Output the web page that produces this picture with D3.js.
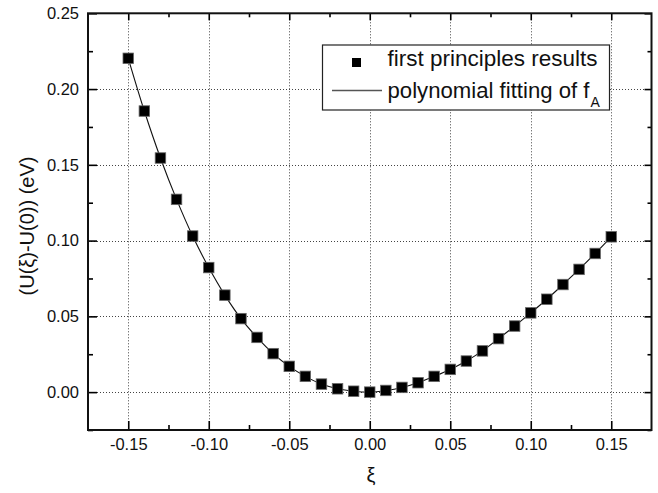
<!DOCTYPE html>
<html>
<head>
<meta charset="utf-8">
<script src="https://cdn.jsdelivr.net/npm/d3@7"></script>
<style>
  html, body { margin: 0; padding: 0; background: #fff; }
  svg text { font-family: Arial, "Liberation Sans", Helvetica, sans-serif; }
</style>
</head>
<body>
<svg id="chart" width="658" height="493"></svg>
<script>
const xiValues = [-0.15, -0.14, -0.13, -0.12, -0.11, -0.10, -0.09, -0.08, -0.07, -0.06,
                  -0.05, -0.04, -0.03, -0.02, -0.01, 0.00, 0.01, 0.02, 0.03, 0.04,
                  0.05, 0.06, 0.07, 0.08, 0.09, 0.10, 0.11, 0.12, 0.13, 0.14, 0.15];
const energyValues = [0.2203, 0.1855, 0.1545, 0.1272, 0.1030, 0.0822, 0.0640, 0.0485, 0.0361, 0.0254,
                      0.0170, 0.0104, 0.0053, 0.0022, 0.0006, 0.0000, 0.0011, 0.0031, 0.0062, 0.0104,
                      0.0150, 0.0205, 0.0272, 0.0353, 0.0436, 0.0523, 0.0613, 0.0710, 0.0810, 0.0915, 0.1025];
const xTicks = [-0.15, -0.10, -0.05, 0.00, 0.05, 0.10, 0.15];
const yTicks = [0.00, 0.05, 0.10, 0.15, 0.20, 0.25];
const xMinorTicks = [-0.125, -0.075, -0.025, 0.025, 0.075, 0.125];
const yMinorTicks = [-0.025, 0.025, 0.075, 0.125, 0.175, 0.225];
const legendLabels = ["first principles results", "polynomial fitting of f"];

const svg = d3.select("#chart");
const L = 88, R = 651.5, T = 13.3, B = 430;
const x = d3.scaleLinear().domain([-0.175, 0.175]).range([L, R]);
const y = d3.scaleLinear().domain([-0.025, 0.25]).range([B, T]);

// grid
const grid = svg.append("g").attr("stroke", "#444").attr("stroke-width", 1).attr("stroke-dasharray", "1,2");
grid.selectAll("line.gx").data(xTicks).join("line")
  .attr("x1", d => Math.round(x(d)) + 0.5).attr("x2", d => Math.round(x(d)) + 0.5)
  .attr("y1", T).attr("y2", B);
grid.selectAll("line.gy").data(yTicks).join("line")
  .attr("y1", d => Math.round(y(d)) + 0.5).attr("y2", d => Math.round(y(d)) + 0.5)
  .attr("x1", L).attr("x2", R);

// axes with inward ticks
const f2 = d3.format(".2f");
const fmt = d => f2(d).replace("\u2212", "-");
function styleAxis(g) {
  g.select(".domain").remove();
  g.selectAll(".tick line").attr("stroke", "#000").attr("stroke-width", 1.6);
  g.selectAll(".tick text").attr("fill", "#111").attr("font-size", 16.5)
   .attr("font-family", "Arial, 'Liberation Sans', sans-serif");
}
const axBottom = svg.append("g").attr("transform", `translate(0,${B})`)
  .call(d3.axisBottom(x).tickValues(xTicks).tickFormat(fmt).tickSizeInner(-9).tickSizeOuter(0).tickPadding(8));
styleAxis(axBottom);
const axBottomMinor = svg.append("g").attr("transform", `translate(0,${B})`)
  .call(d3.axisBottom(x).tickValues(xMinorTicks).tickFormat("").tickSizeInner(-5).tickSizeOuter(0));
styleAxis(axBottomMinor);
const axTop = svg.append("g").attr("transform", `translate(0,${T})`)
  .call(d3.axisTop(x).tickValues(xTicks).tickFormat("").tickSizeInner(-7).tickSizeOuter(0));
styleAxis(axTop);
const axTopMinor = svg.append("g").attr("transform", `translate(0,${T})`)
  .call(d3.axisTop(x).tickValues(xMinorTicks).tickFormat("").tickSizeInner(-4).tickSizeOuter(0));
styleAxis(axTopMinor);
const axLeft = svg.append("g").attr("transform", `translate(${L},0)`)
  .call(d3.axisLeft(y).tickValues(yTicks).tickFormat(fmt).tickSizeInner(-9).tickSizeOuter(0).tickPadding(9));
styleAxis(axLeft);
const axLeftMinor = svg.append("g").attr("transform", `translate(${L},0)`)
  .call(d3.axisLeft(y).tickValues(yMinorTicks).tickFormat("").tickSizeInner(-5).tickSizeOuter(0));
styleAxis(axLeftMinor);
const axRight = svg.append("g").attr("transform", `translate(${R},0)`)
  .call(d3.axisRight(y).tickValues(yTicks).tickFormat("").tickSizeInner(-7).tickSizeOuter(0));
styleAxis(axRight);
const axRightMinor = svg.append("g").attr("transform", `translate(${R},0)`)
  .call(d3.axisRight(y).tickValues(yMinorTicks).tickFormat("").tickSizeInner(-4).tickSizeOuter(0));
styleAxis(axRightMinor);

// frame
svg.append("rect").attr("x", L).attr("y", T).attr("width", R - L).attr("height", B - T)
  .attr("fill", "none").attr("stroke", "#111").attr("stroke-width", 2);

// data
const data = xiValues.map((v, i) => ({ x: v, y: energyValues[i] }));
const line = d3.line().x(d => x(d.x)).y(d => y(d.y)).curve(d3.curveCatmullRom);
svg.append("path").datum(data).attr("d", line)
  .attr("fill", "none").attr("stroke", "#111").attr("stroke-width", 1.1);
const s = 10.5;
svg.append("g").selectAll("rect").data(data).join("rect")
  .attr("x", d => x(d.x) - s / 2).attr("y", d => y(d.y) - s / 2)
  .attr("width", s).attr("height", s)
  .attr("fill", "#000").attr("stroke", "#666").attr("stroke-width", 0.8);

// legend
const lg = svg.append("g");
lg.append("rect").attr("x", 322.5).attr("y", 45).attr("width", 287).attr("height", 65)
  .attr("fill", "#fff").attr("stroke", "#222").attr("stroke-width", 1.2);
lg.append("rect").attr("x", 352).attr("y", 58).attr("width", 9).attr("height", 9).attr("fill", "#000");
lg.append("line").attr("x1", 332).attr("x2", 382).attr("y1", 90.5).attr("y2", 90.5)
  .attr("stroke", "#555").attr("stroke-width", 1.3);
lg.append("text").attr("x", 387.5).attr("y", 66).attr("font-size", 22).attr("fill", "#111")
  .attr("textLength", 210).attr("lengthAdjust", "spacingAndGlyphs").text(legendLabels[0]);
lg.append("text").attr("x", 387.5).attr("y", 98).attr("font-size", 22).attr("fill", "#111")
  .attr("textLength", 202).attr("lengthAdjust", "spacingAndGlyphs").text(legendLabels[1]);
lg.append("text").attr("x", 590.5).attr("y", 107).attr("font-size", 14).attr("fill", "#111").text("A");

// axis titles
svg.append("text").attr("x", 371).attr("y", 482).attr("text-anchor", "middle")
  .attr("font-size", 20).attr("fill", "#111").text("ξ");
svg.append("text").attr("transform", "translate(34,226) rotate(-90)").attr("text-anchor", "middle")
  .attr("font-size", 20).attr("fill", "#111").text("(U(ξ)-U(0)) (eV)");
</script>
</body>
</html>
